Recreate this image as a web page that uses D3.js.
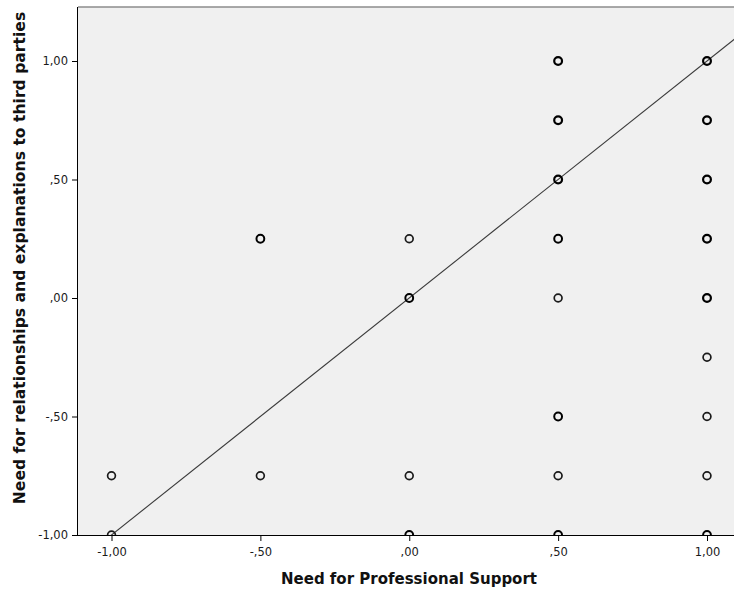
<!DOCTYPE html>
<html>
<head>
<meta charset="utf-8">
<script src="https://cdn.jsdelivr.net/npm/d3@7"></script>
<style>
  body { margin: 0; background: #fff; }
  text { font-family: "DejaVu Sans", sans-serif; }
</style>
</head>
<body>
<div id="chart"></div>
<script>
// observed points; weight = how many cases sit on the same spot (drawn bolder)
var pointX = [-1, -1, -0.5, -0.5, 0, 0, 0, 0,
              0.5, 0.5, 0.5, 0.5, 0.5, 0.5, 0.5, 0.5,
              1, 1, 1, 1, 1, 1, 1, 1, 1];
var pointY = [-0.75, -1, 0.25, -0.75, 0.25, 0, -0.75, -1,
              1, 0.75, 0.5, 0.25, 0, -0.5, -0.75, -1,
              1, 0.75, 0.5, 0.25, 0, -0.25, -0.5, -0.75, -1];
var pointN = [1, 1, 2, 1, 1, 2, 1, 2,
              3, 3, 3, 2, 1, 2, 1, 2,
              3, 3, 3, 3, 3, 1, 1, 1, 2];

var xTicks = [-1, -0.5, 0, 0.5, 1];
var yTicks = [-1, -0.5, 0, 0.5, 1];

// fit line y = a + b*x
var fitA = 0, fitB = 1;

var xTitle = "Need for Professional Support";
var yTitle = "Need for relationships and explanations to third parties";

var W = 734, H = 594;
var pLeft = 78, pTop = 7, pBottom = 535, pRight = 742;

var x = d3.scaleLinear().domain([-1, 1]).range([111.5, 707]);
var y = d3.scaleLinear().domain([-1, 1]).range([535, 61]);

function fmt(v) {
    var s = Math.abs(v).toFixed(2).replace(".", ",");
    if (s.charAt(0) == "0") s = s.slice(1);
    return (v < 0 ? "-" : "") + s;
}

var svg = d3.select("#chart").append("svg")
    .attr("width", W)
    .attr("height", H);

svg.append("defs").append("clipPath")
    .attr("id", "plotclip")
    .append("rect")
    .attr("x", pLeft).attr("y", pTop)
    .attr("width", pRight - pLeft).attr("height", pBottom - pTop);

svg.append("rect")
    .attr("x", pLeft).attr("y", pTop)
    .attr("width", pRight - pLeft).attr("height", pBottom - pTop)
    .attr("fill", "#f0f0f0");

// top frame line
svg.append("line")
    .attr("x1", pLeft).attr("x2", pRight)
    .attr("y1", pTop).attr("y2", pTop)
    .attr("stroke", "#8c8c8c").attr("stroke-width", 1.5);

var plot = svg.append("g").attr("clip-path", "url(#plotclip)");

var xMin = x.invert(pLeft), xMax = x.invert(pRight);
plot.append("line")
    .attr("x1", x(xMin)).attr("y1", y(fitA + fitB * xMin))
    .attr("x2", x(xMax)).attr("y2", y(fitA + fitB * xMax))
    .attr("stroke", "#3a3a3a")
    .attr("stroke-width", 1.1);

plot.selectAll("circle.pt")
    .data(pointX)
    .enter()
    .append("circle")
    .attr("class", "pt")
    .attr("cx", function(d) { return x(d) })
    .attr("cy", function(d, i) { return y(pointY[i]) })
    .attr("r", 3.9)
    .attr("fill", "none")
    .attr("stroke", function(d, i) { return pointN[i] > 1 ? "#000" : "#1a1a1a" })
    .attr("stroke-width", function(d, i) { return pointN[i] > 2 ? 2.2 : (pointN[i] > 1 ? 2 : 1.7) });

// axes
var xAxis = svg.append("g")
    .attr("transform", "translate(0," + pBottom + ")")
    .call(d3.axisBottom(x).tickValues(xTicks).tickFormat(fmt).tickSize(6).tickSizeOuter(0));
xAxis.select(".domain").attr("d", "M" + pLeft + ",0.5H" + pRight).attr("stroke", "#000");

var yAxis = svg.append("g")
    .attr("transform", "translate(" + pLeft + ",0)")
    .call(d3.axisLeft(y).tickValues(yTicks).tickFormat(fmt).tickSize(6).tickSizeOuter(0));
yAxis.select(".domain").attr("d", "M-0.5," + pTop + "V" + pBottom).attr("stroke", "#000");

svg.selectAll(".tick text")
    .attr("font-family", "'DejaVu Sans', sans-serif")
    .attr("font-size", 11.5)
    .attr("fill", "#1a1a1a");
xAxis.selectAll(".tick text").attr("dy", "1.05em");
yAxis.selectAll(".tick text").attr("dx", "-1px");

svg.append("text")
    .attr("x", 409)
    .attr("y", 584)
    .attr("text-anchor", "middle")
    .attr("font-weight", "bold")
    .attr("font-size", 15)
    .attr("fill", "#111")
    .text(xTitle);

svg.append("text")
    .attr("transform", "translate(25,258) rotate(-90)")
    .attr("text-anchor", "middle")
    .attr("font-weight", "bold")
    .attr("font-size", 15.6)
    .attr("fill", "#111")
    .text(yTitle);
</script>
</body>
</html>
